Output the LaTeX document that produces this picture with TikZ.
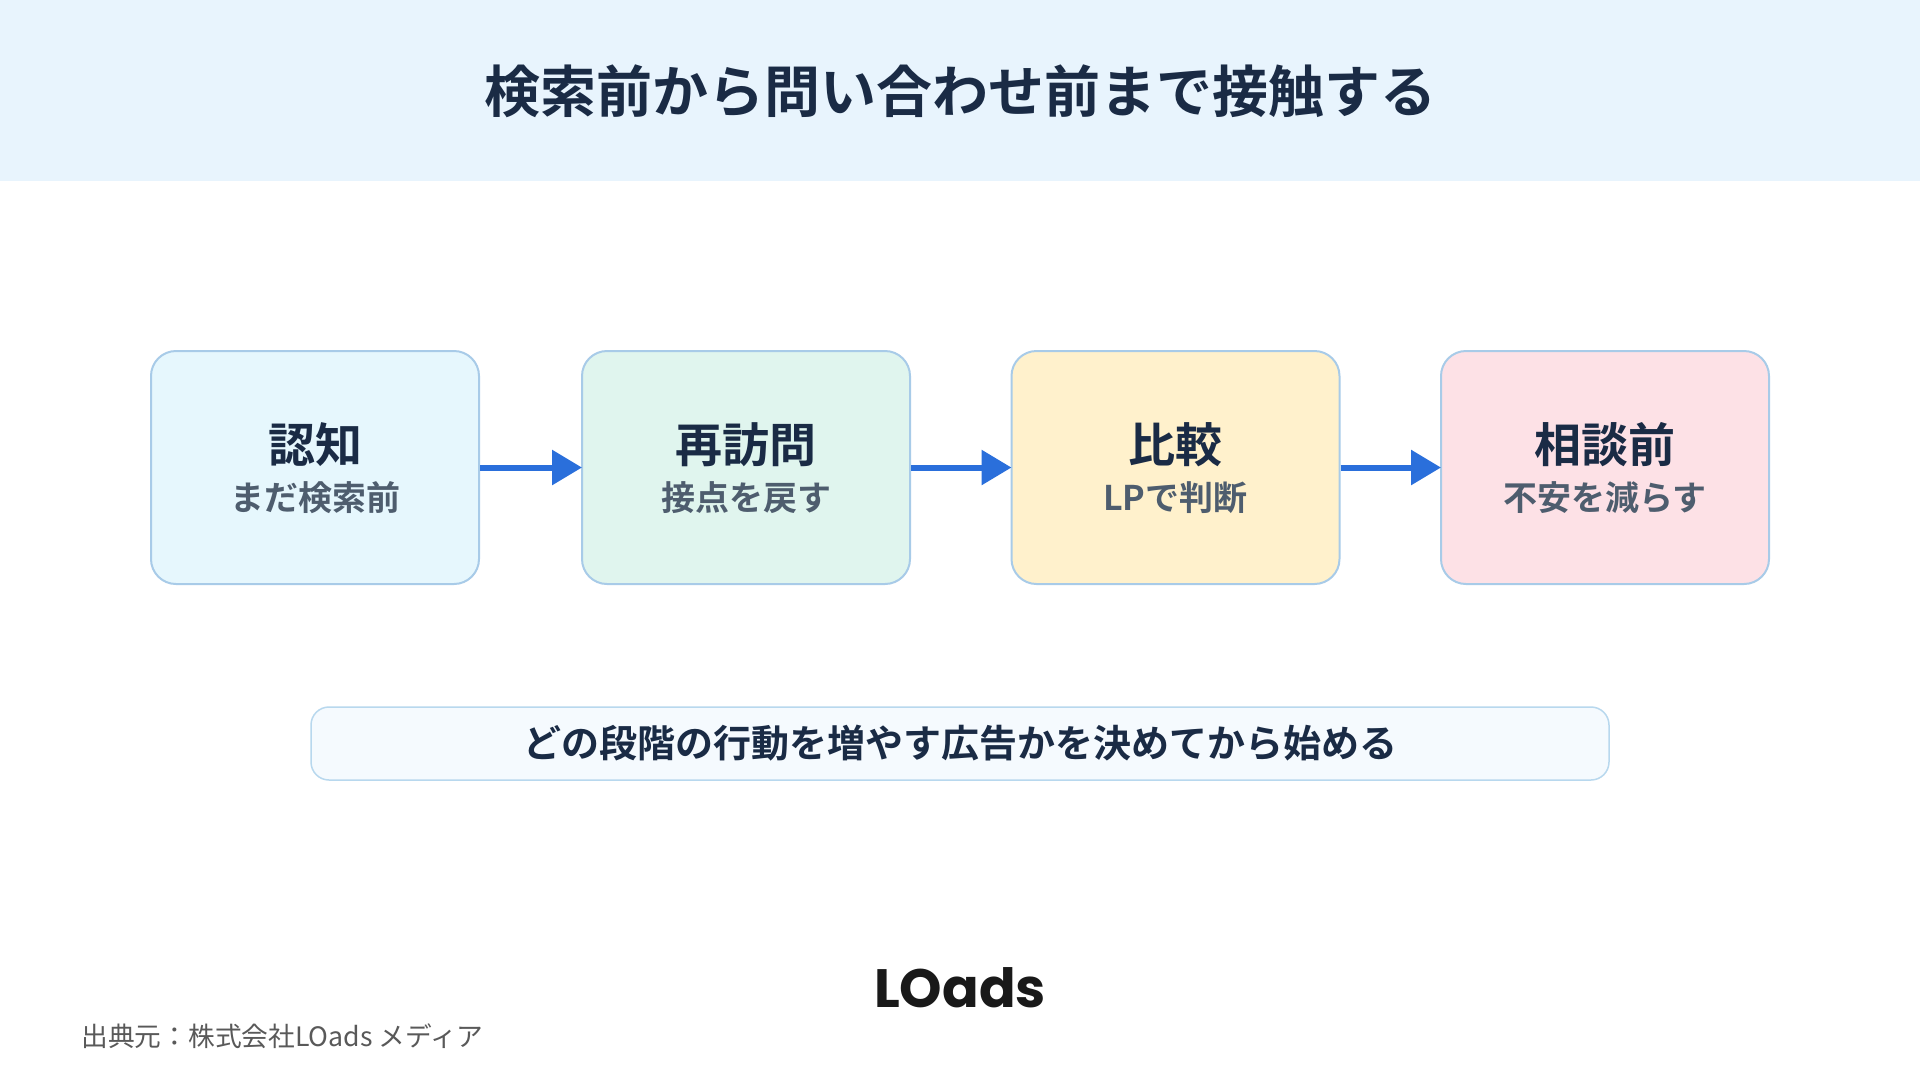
\documentclass[tikz,border=0pt]{standalone}
\usepackage{fontspec}
\setmainfont{Noto Sans CJK JP}
\newfontfamily\jpb{Noto Sans CJK JP Bold}
\newfontfamily\logofont{Poppins Bold}
\usetikzlibrary{arrows.meta}
\definecolor{hdr}{HTML}{E8F4FD}
\definecolor{ink}{HTML}{1A2B45}
\definecolor{sub}{HTML}{4E5D6E}
\definecolor{bd}{HTML}{A8CBE8}
\definecolor{fa}{HTML}{E6F7FD}
\definecolor{fb}{HTML}{E0F5EE}
\definecolor{fc}{HTML}{FFF1CC}
\definecolor{fd}{HTML}{FDE1E6}
\definecolor{arr}{HTML}{2A6FDB}
\definecolor{barf}{HTML}{F5FAFE}
\definecolor{barb}{HTML}{B8D8EE}
\tikzset{x=1pt,y=-1pt,
stage/.style={draw=bd,line width=2pt,rounded corners=25pt,minimum width=328pt,minimum height=233pt,inner sep=0pt},
ttl/.style={font=\jpb\fontsize{47}{52}\selectfont,text=ink},
sbt/.style={font=\jpb\fontsize{34}{40}\selectfont,text=sub},
flow/.style={draw=arr,line width=6pt,-{Triangle[length=30pt,width=34pt]},shorten >=-1pt}}
\begin{document}
\begin{tikzpicture}
\useasboundingbox (0,0) rectangle (1920,1080);
\fill[white] (0,0) rectangle (1920,1080);
\fill[hdr] (0,0) rectangle (1920,181);
\node (title) at (960,91) {\jpb\fontsize{56}{62}\selectfont\color{ink}検索前から問い合わせ前まで接触する};
\node[stage,fill=fa] (s1) at (315,467.5) {};
\node[stage,fill=fb] (s2) at (746,467.5) {};
\node[stage,fill=fc] (s3) at (1175.5,467.5) {};
\node[stage,fill=fd] (s4) at (1605,467.5) {};
\foreach \n/\a/\b in {s1/認知/まだ検索前,s2/再訪問/接点を戻す,s3/比較/LPで判断,s4/相談前/不安を減らす}{
  \node[ttl] (\n t) at ([yshift=23pt]\n.center) {\a};
  \node[sbt] (\n s) at ([yshift=-30pt]\n.center) {\b};
}
\draw[flow] (s1) -- (s2);
\draw[flow] (s2) -- (s3);
\draw[flow] (s3) -- (s4);
\node[draw=barb,line width=1.5pt,fill=barf,rounded corners=18pt,minimum width=1298pt,minimum height=73pt] (bar) at (960,743.5) {};
\node[font=\jpb\fontsize{38}{44}\selectfont,text=ink] (bart) at (bar.center) {どの段階の行動を増やす広告かを決めてから始める};
\node[font=\logofont\fontsize{54}{60}\selectfont,text=black!90] (logo) at (960,988) {LOads};
\node[anchor=west,font=\fontsize{26.7}{32}\selectfont,text=black!65] (src) at (78,1036) {出典元：株式会社LOads メディア};
\end{tikzpicture}
\end{document}
